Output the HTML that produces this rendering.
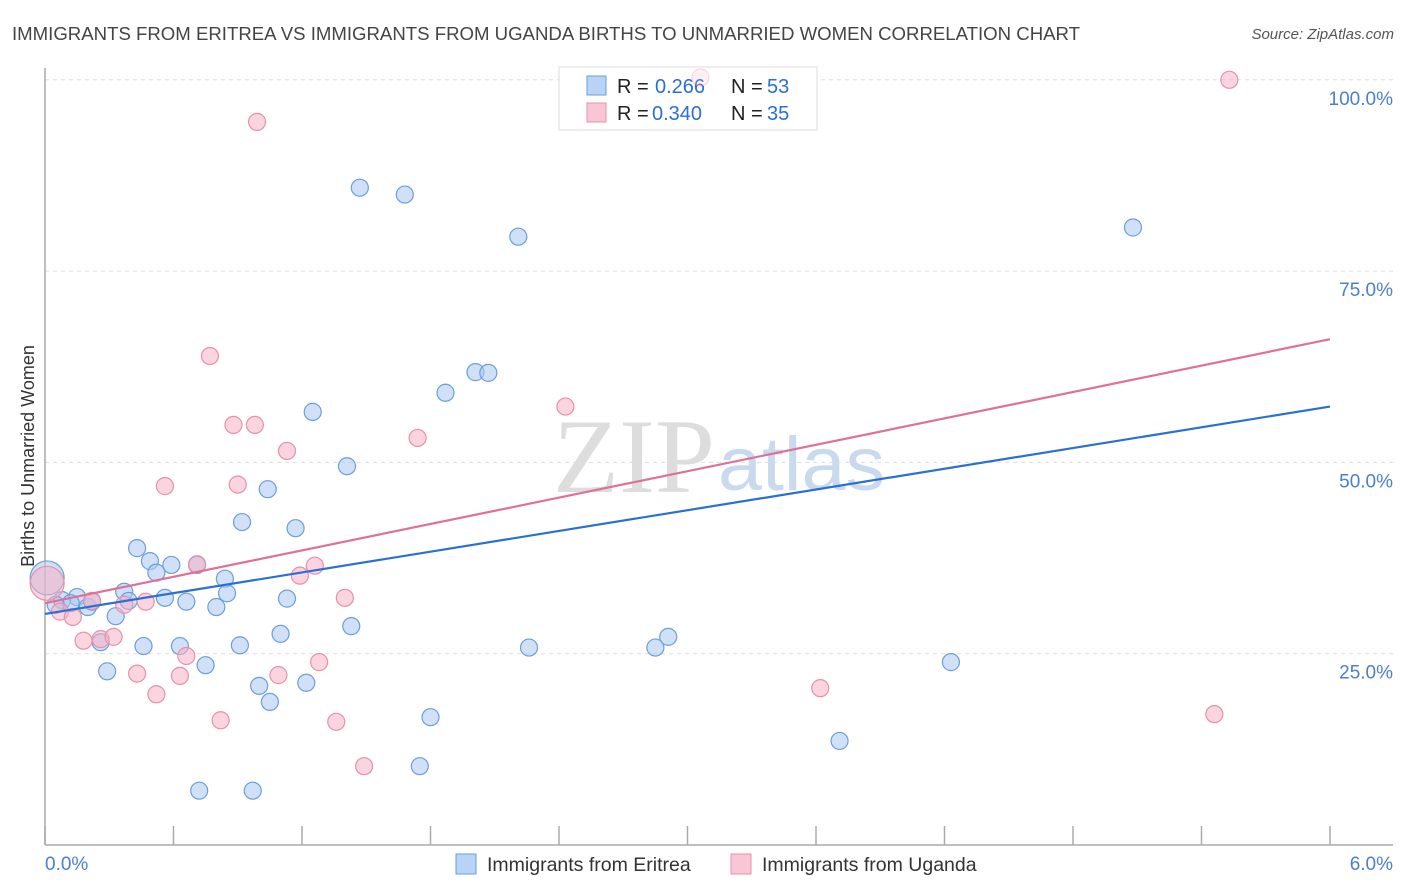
<!DOCTYPE html>
<html><head><meta charset="utf-8"><style>
body{margin:0;background:#fff;font-family:"Liberation Sans",sans-serif;}
svg{display:block}
</style></head><body>
<svg id="chart" width="1406" height="892" xmlns="http://www.w3.org/2000/svg">
<text x="12" y="40" font-size="18" fill="#444" textLength="1068" lengthAdjust="spacingAndGlyphs">IMMIGRANTS FROM ERITREA VS IMMIGRANTS FROM UGANDA BIRTHS TO UNMARRIED WOMEN CORRELATION CHART</text>
<text x="1394" y="39" font-size="15" fill="#555" text-anchor="end" font-style="italic">Source: ZipAtlas.com</text>
<text x="553" y="492" font-size="106" font-family="Liberation Serif,serif" fill="#ddd" textLength="162" lengthAdjust="spacingAndGlyphs">ZIP</text>
<text x="718" y="490" font-size="76" fill="#c9d9f0" textLength="167" lengthAdjust="spacingAndGlyphs">atlas</text>
<g id="grid"></g>
<g id="axes"></g>
<g>
<rect x="559" y="67" width="258" height="63" fill="#fff" stroke="#ddd"/>
<rect x="587" y="76" width="19" height="19" fill="#b8d3f5" stroke="#6a9fdc"/>
<rect x="587" y="103" width="19" height="19" fill="#f9c6d5" stroke="#e890aa"/>
<text x="617" y="93" font-size="20" fill="#222">R =</text>
<text x="655" y="93" font-size="20" fill="#2a6fd6">0.266</text>
<text x="731" y="93" font-size="20" fill="#222">N =</text>
<text x="767" y="93" font-size="20" fill="#2a6fd6">53</text>
<text x="617" y="120" font-size="20" fill="#222">R =</text>
<text x="652" y="120" font-size="20" fill="#2a6fd6">0.340</text>
<text x="731" y="120" font-size="20" fill="#222">N =</text>
<text x="767" y="120" font-size="20" fill="#2a6fd6">35</text>
</g>
<g id="pts"></g>
<g id="lines"></g>
<text transform="translate(34,456) rotate(-90)" font-size="18" fill="#333" text-anchor="middle">Births to Unmarried Women</text>
<g>
<rect x="456" y="854" width="20" height="20" fill="#b8d3f5" stroke="#6a9fdc"/>
<text x="487" y="871" font-size="19.5" fill="#333">Immigrants from Eritrea</text>
<rect x="731" y="854" width="20" height="20" fill="#f9c6d5" stroke="#e890aa"/>
<text x="762" y="871" font-size="19.5" fill="#333">Immigrants from Uganda</text>
</g>
</svg>
<script>
const eritreaX=[1.47,1.68,2.21,5.08,2.01,2.07,1.87,1.25,1.41,1.04,0.92,1.17,0.43,0.49,0.52,0.59,0.71,0.84,0.85,0.56,0.66,0.80,1.13,0.37,0.39,0.15,0.08,0.12,0.05,0.20,0.22,0.33,0.26,0.46,0.63,0.91,1.10,1.43,2.26,2.85,2.91,0.29,0.75,1.00,1.22,1.05,1.80,1.75,3.71,4.23,0.72,0.97,0.01];
const eritreaY=[85.9,85.0,79.5,80.7,61.8,61.7,59.1,56.6,49.5,46.5,42.2,41.4,38.8,37.1,35.6,36.6,36.6,34.8,32.9,32.3,31.8,31.1,32.2,33.1,31.9,32.4,32.0,31.6,31.4,31.1,31.8,29.9,26.5,26.0,26.0,26.1,27.6,28.6,25.8,25.8,27.2,22.7,23.5,20.8,21.2,18.7,16.7,10.3,13.6,23.9,7.1,7.1,34.9];
const ugandaX=[3.06,5.53,0.99,0.77,0.88,0.98,1.13,1.74,2.43,0.56,0.90,0.71,1.19,1.26,1.40,0.47,0.37,0.22,0.07,0.13,0.18,0.26,0.32,0.43,0.63,0.66,0.52,1.09,1.28,0.82,1.36,1.49,3.62,5.46,0.01];
const ugandaY=[100.3,100.0,94.5,63.9,54.9,54.9,51.5,53.2,57.3,46.9,47.1,36.7,35.2,36.5,32.3,31.8,31.4,31.9,30.5,29.8,26.7,26.9,27.2,22.4,22.1,24.7,19.7,22.2,23.9,16.3,16.1,10.3,20.5,17.1,34.2];
const trendEritrea=[30.2,57.3];
const trendUganda=[31.6,66.1];
const yTicks=[25,50,75,100];
const yTickLabels=["25.0%","50.0%","75.0%","100.0%"];
const xTicks=[0,0.6,1.2,1.8,2.4,3.0,3.6,4.2,4.8,5.4,6.0];
const NS="http://www.w3.org/2000/svg";
const sx=v=>45+v/6*1285, sy=v=>845-v*7.652;
function mk(t,a,p){const e=document.createElementNS(NS,t);for(const k in a)e.setAttribute(k,a[k]);p.appendChild(e);return e;}
const grid=document.getElementById('grid'),axes=document.getElementById('axes'),pts=document.getElementById('pts'),lines=document.getElementById('lines');
yTicks.forEach((v,i)=>{
 const l=mk('line',{x1:45,x2:1393,y1:sy(v),y2:sy(v),stroke:'#ddd','stroke-dasharray':'4,4'},grid);
 
 
 const t=mk('text',{x:1393,y:sy(v)+25,'font-size':19,fill:'#4a7fd0','text-anchor':'end'},axes);
 t.textContent=yTickLabels[i];
 
 
});
mk('line',{x1:45,x2:45,y1:68,y2:845,stroke:'#aaa','stroke-width':1.5},axes);
mk('line',{x1:45,x2:1393,y1:845,y2:845,stroke:'#aaa','stroke-width':1.5},axes);
xTicks.forEach(v=>{const t=mk('line',{x1:sx(v),x2:sx(v),y1:826,y2:845,stroke:'#aaa','stroke-width':1.5},axes);
 
 });
const x0=mk('text',{x:45,y:870,'font-size':19,fill:'#4a7fd0'},axes);x0.textContent='0.0%';
const x1=mk('text',{x:1393,y:870,'font-size':19,fill:'#4a7fd0','text-anchor':'end'},axes);x1.textContent='6.0%';
function dots(X,Y,fill,stroke,name){X.forEach((x,i)=>{const big=i===X.length-1;
 const c=mk('circle',{cx:sx(x),cy:sy(Y[i]),r:big?17:8.5,fill:fill,'fill-opacity':0.55,stroke:stroke,'stroke-width':1.2},pts);
 if(Y[i]>99.5&&x>2.9&&x<3.2){c.setAttribute('opacity','0.35');}
 
 });}
dots(eritreaX,eritreaY,'#a9c8f0','#6a9fdc','eritrea-point');
dots(ugandaX,ugandaY,'#f5b0c5','#e890aa','uganda-point');
const lb=mk('line',{x1:sx(0),y1:sy(trendEritrea[0]),x2:sx(6),y2:sy(trendEritrea[1]),stroke:'#2a6fd6','stroke-width':2.2},lines);


const lp=mk('line',{x1:sx(0),y1:sy(trendUganda[0]),x2:sx(6),y2:sy(trendUganda[1]),stroke:'#e07098','stroke-width':2.2},lines);


</script>
</body></html>
